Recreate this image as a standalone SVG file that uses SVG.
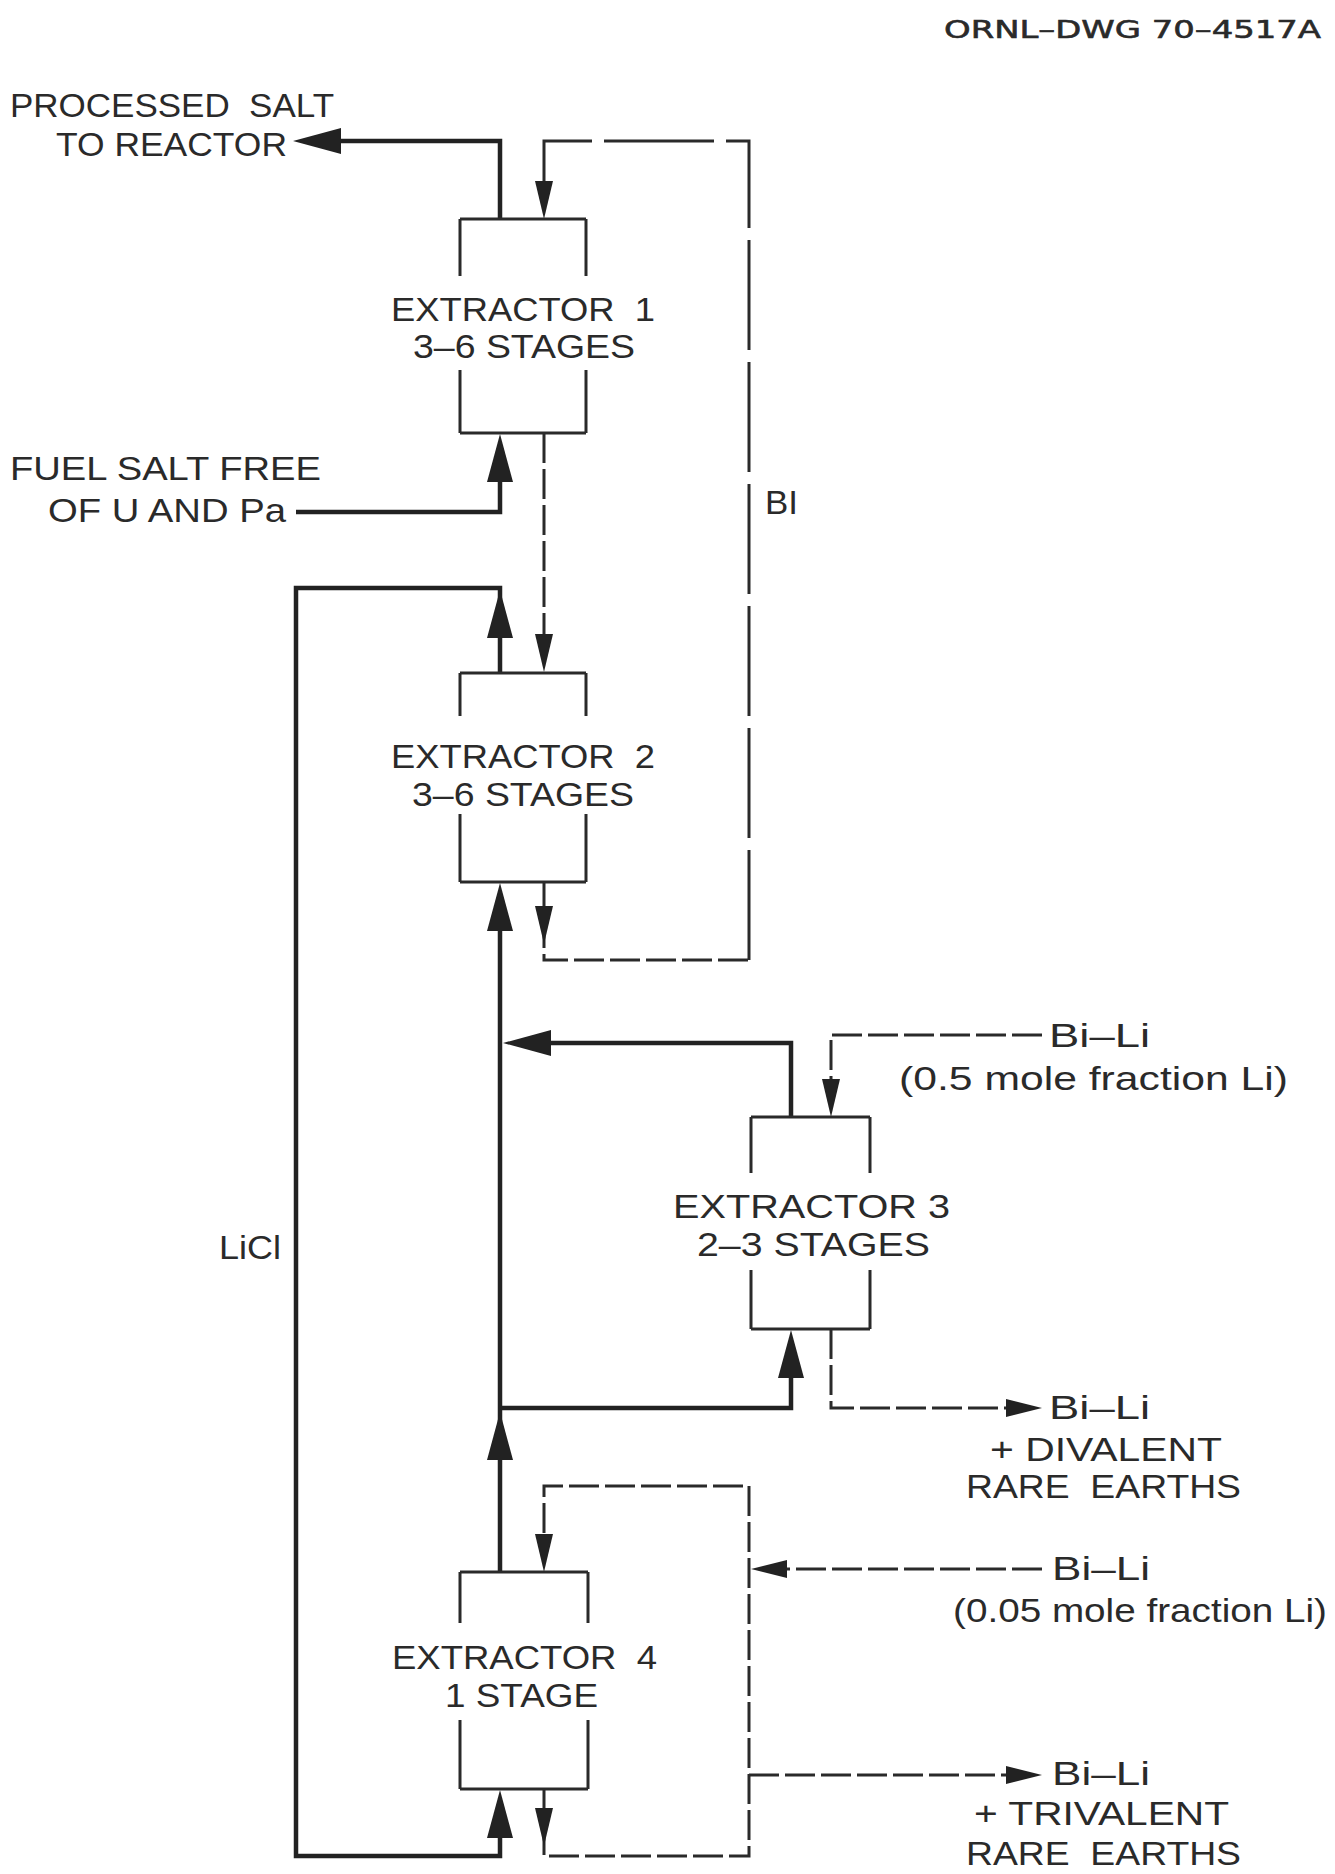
<svg xmlns="http://www.w3.org/2000/svg" xmlns:xlink="http://www.w3.org/1999/xlink" width="1335" height="1874" viewBox="0 0 1335 1874">
<style>
text{font-family:"Liberation Sans",Arial,sans-serif;font-size:33px;fill:#2a2a2a;white-space:pre;}
.title{font-family:"DejaVu Sans","Liberation Sans",sans-serif;font-size:25px;stroke:#2a2a2a;stroke-width:0.6;}
.box{fill:none;stroke:#2a2a2a;stroke-width:3;}
.solid{fill:none;stroke:#222;stroke-width:4.5;stroke-linejoin:miter;}
.dash{fill:none;stroke:#2a2a2a;stroke-width:3;stroke-dasharray:30 6;}
.dashl{fill:none;stroke:#2a2a2a;stroke-width:3;stroke-dasharray:110 12;}
.head{fill:#222;}
</style>
<defs>
<path id="hs" d="M0,0 L-48,-13 L-48,13 Z"/>
<path id="hn" d="M0,0 L-38,-9 L-38,9 Z"/>
<path id="ho" d="M0,0 L-36,-9 L-36,9 Z"/>
</defs>
<rect width="1335" height="1874" fill="#fff"/>
<text class="title" x="944" y="38" textLength="377" lengthAdjust="spacingAndGlyphs">ORNL–DWG 70–4517A</text>

<g id="connectors">
  <!-- solid salt streams -->
  <path class="solid" d="M500,219 V141 H335"/>
  <use href="#hs" class="head" transform="translate(293,141) rotate(180)"/>
  <path class="solid" d="M296,512 H500 V470"/>
  <use href="#hs" class="head" transform="translate(500,434) rotate(-90)"/>
  <path class="solid" d="M500,673 V588 H296 V1856 H500 V1830"/>
  <use href="#hs" class="head" transform="translate(500,590) rotate(-90)"/>
  <use href="#hs" class="head" transform="translate(500,1790) rotate(-90)"/>
  <path class="solid" d="M500,1572 V920"/>
  <use href="#hs" class="head" transform="translate(500,883) rotate(-90)"/>
  <use href="#hs" class="head" transform="translate(500,1412) rotate(-90)"/>
  <path class="solid" d="M500,1408 H791 V1365"/>
  <use href="#hs" class="head" transform="translate(791,1330) rotate(-90)"/>
  <path class="solid" d="M791,1117 V1043 H540"/>
  <use href="#hs" class="head" transform="translate(503,1043) rotate(180)"/>

  <!-- Bi loop, extractors 1 and 2 -->
  <path class="dashl" d="M749,960 V141 H544 V200"/>
  <use href="#hn" class="head" transform="translate(544,219) rotate(90)"/>
  <path class="dash" d="M544,433 V650"/>
  <use href="#hn" class="head" transform="translate(544,672) rotate(90)"/>
  <path class="dash" d="M544,882 V960 H749"/>
  <use href="#hn" class="head" transform="translate(544,944) rotate(90)"/>

  <!-- Bi-Li extractor 3 -->
  <path class="dash" d="M1042,1035 H831 V1100"/>
  <use href="#hn" class="head" transform="translate(831,1117) rotate(90)"/>
  <path class="dash" d="M831,1329 V1408 H1010"/>
  <use href="#ho" class="head" transform="translate(1042,1408)"/>

  <!-- Bi loop extractor 4 -->
  <path class="dash" d="M544,1789 V1856 H749 V1486 H544 V1550"/>
  <use href="#hn" class="head" transform="translate(544,1572) rotate(90)"/>
  <use href="#hn" class="head" transform="translate(544,1846) rotate(90)"/>
  <path class="dash" d="M1042,1569 H775"/>
  <use href="#ho" class="head" transform="translate(751,1569) rotate(180)"/>
  <path class="dash" d="M749,1775 H1010"/>
  <use href="#ho" class="head" transform="translate(1042,1775)"/>
</g>

<g id="extractor1">
  <path class="box" d="M460,219 H586 M460,433 H586 M460,219 V276 M460,370 V433 M586,219 V276 M586,370 V433"/>
  <text x="391" y="321" textLength="264" lengthAdjust="spacingAndGlyphs">EXTRACTOR  1</text>
  <text x="413" y="358" textLength="222" lengthAdjust="spacingAndGlyphs">3–6 STAGES</text>
</g>
<g id="extractor2">
  <path class="box" d="M460,673 H586 M460,882 H586 M460,673 V716 M460,814 V882 M586,673 V716 M586,814 V882"/>
  <text x="391" y="768" textLength="264" lengthAdjust="spacingAndGlyphs">EXTRACTOR  2</text>
  <text x="412" y="806" textLength="222" lengthAdjust="spacingAndGlyphs">3–6 STAGES</text>
</g>
<g id="extractor3">
  <path class="box" d="M751,1117 H870 M751,1329 H870 M751,1117 V1173 M751,1270 V1329 M870,1117 V1173 M870,1270 V1329"/>
  <text x="673" y="1218" textLength="277" lengthAdjust="spacingAndGlyphs">EXTRACTOR 3</text>
  <text x="697" y="1256" textLength="233" lengthAdjust="spacingAndGlyphs">2–3 STAGES</text>
</g>
<g id="extractor4">
  <path class="box" d="M460,1572 H588 M460,1789 H588 M460,1572 V1623 M460,1720 V1789 M588,1572 V1623 M588,1720 V1789"/>
  <text x="392" y="1669" textLength="265" lengthAdjust="spacingAndGlyphs">EXTRACTOR  4</text>
  <text x="445" y="1707" textLength="153" lengthAdjust="spacingAndGlyphs">1 STAGE</text>
</g>

<g id="labels">
  <text x="10" y="117" textLength="324" lengthAdjust="spacingAndGlyphs">PROCESSED  SALT</text>
  <text x="56" y="156" textLength="231" lengthAdjust="spacingAndGlyphs">TO REACTOR</text>
  <text x="10" y="480" textLength="311" lengthAdjust="spacingAndGlyphs">FUEL SALT FREE</text>
  <text x="48" y="522" textLength="238" lengthAdjust="spacingAndGlyphs">OF U AND Pa</text>
  <text x="765" y="514" textLength="33" lengthAdjust="spacingAndGlyphs">BI</text>
  <text x="219" y="1259" textLength="62" lengthAdjust="spacingAndGlyphs">LiCl</text>
  <text x="1049" y="1047" textLength="101" lengthAdjust="spacingAndGlyphs">Bi–Li</text>
  <text x="899" y="1090" textLength="389" lengthAdjust="spacingAndGlyphs">(0.5 mole fraction Li)</text>
  <text x="1049" y="1419" textLength="101" lengthAdjust="spacingAndGlyphs">Bi–Li</text>
  <text x="990" y="1461" textLength="232" lengthAdjust="spacingAndGlyphs">+ DIVALENT</text>
  <text x="966" y="1498" textLength="275" lengthAdjust="spacingAndGlyphs">RARE  EARTHS</text>
  <text x="1052" y="1580" textLength="98" lengthAdjust="spacingAndGlyphs">Bi–Li</text>
  <text x="953" y="1622" textLength="374" lengthAdjust="spacingAndGlyphs">(0.05 mole fraction Li)</text>
  <text x="1052" y="1785" textLength="98" lengthAdjust="spacingAndGlyphs">Bi–Li</text>
  <text x="974" y="1825" textLength="255" lengthAdjust="spacingAndGlyphs">+ TRIVALENT</text>
  <text x="966" y="1865" textLength="275" lengthAdjust="spacingAndGlyphs">RARE  EARTHS</text>
</g>
</svg>
